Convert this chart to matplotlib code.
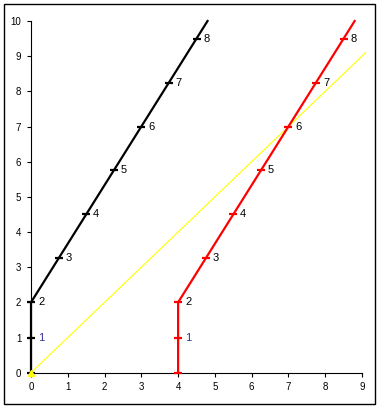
import matplotlib.pyplot as plt
from matplotlib.patches import Rectangle

plt.rcParams['font.family'] = ['Liberation Sans', 'DejaVu Sans']

# point data
black_x = [0, 0, 0, 0.75, 1.5, 2.25, 3, 3.75, 4.5]
black_y = [0, 1, 2, 3.25, 4.5, 5.75, 7, 8.25, 9.5]
red_x = [4, 4, 4, 4.75, 5.5, 6.25, 7, 7.75, 8.5]
red_y = [0, 1, 2, 3.25, 4.5, 5.75, 7, 8.25, 9.5]
point_labels = ['', '1', '2', '3', '4', '5', '6', '7', '8']
# line ends past the last point
black_end = (4.8, 10)
red_end = (8.8, 10)
yellow_x = [0, 9.1]
yellow_y = [0, 9.1]

fig = plt.figure(figsize=(3.79, 4.08), dpi=100)
ax = fig.add_axes([31 / 379, 35.3 / 408, 331 / 379, 351.7 / 408])

ax.plot(yellow_x, yellow_y, color='#ffff00', lw=0.8, clip_on=False, zorder=2)

for xs, ys, end, col in [(black_x, black_y, black_end, 'black'),
                         (red_x, red_y, red_end, 'red')]:
    ax.plot(xs + [end[0]], ys + [end[1]], color=col, lw=1.6, clip_on=False, zorder=3)
    ax.plot(xs, ys, ls='none', marker='_', ms=5.5, mew=1.6, color=col, clip_on=False, zorder=4)
    for x, y, lab in zip(xs, ys, point_labels):
        if lab:
            ax.annotate(lab, (x, y), xytext=(5, 0), textcoords='offset points',
                        va='center', ha='left', fontsize=8,
                        color='#333399' if lab == '1' else 'black')

ax.plot([0], [0], ls='none', marker='^', ms=5, color='#ffff00', clip_on=False, zorder=5)

ax.set_xlim(0, 9)
ax.set_ylim(0, 10)
ax.set_xticks(range(10))
ax.set_yticks(range(11))
ax.spines['top'].set_visible(False)
ax.spines['right'].set_visible(False)
ax.tick_params(labelsize=7, length=3, width=0.8, colors='black', pad=4)

fig.patches.append(Rectangle((4 / 379, 4 / 408), 371 / 379, 400 / 408,
                             transform=fig.transFigure, fill=False,
                             edgecolor='black', lw=1))

fig.savefig('out.png', dpi=100)
